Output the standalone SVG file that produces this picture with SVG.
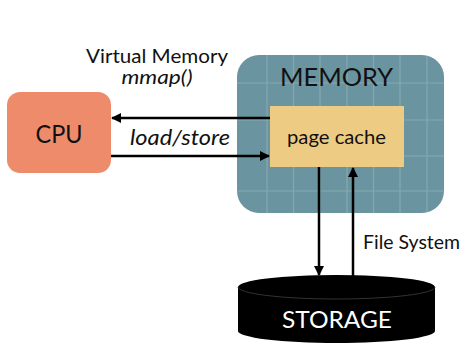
<svg xmlns="http://www.w3.org/2000/svg" width="462" height="347" viewBox="0 0 462 347">
  <style>
    text { font-family: "Lato", "Open Sans", "Liberation Sans", sans-serif; fill: #111; }
    .it { font-style: italic; }
    .wire { stroke: #000; stroke-width: 2.5; fill: none; }
    .grid { stroke: #9db8bf; stroke-width: 1.2; opacity: 0.55; }
  </style>
  <defs>
    <marker id="head" viewBox="0 0 10 10" refX="9" refY="5" markerWidth="4" markerHeight="4" orient="auto" markerUnits="strokeWidth">
      <path d="M0,0 L10,5 L0,10 z" fill="#000"/>
    </marker>
    <clipPath id="memClip">
      <rect x="237" y="55" width="207" height="158" rx="22"/>
    </clipPath>
  </defs>

  <!-- labels on the left -->
  <text x="157" y="63" font-size="18.5" text-anchor="middle" textLength="142" lengthAdjust="spacingAndGlyphs">Virtual Memory</text>
  <text x="157" y="84" font-size="18.5" class="it" text-anchor="middle" textLength="71" lengthAdjust="spacingAndGlyphs">mmap()</text>
  <text x="180" y="145" font-size="21" class="it" text-anchor="middle" textLength="100" lengthAdjust="spacingAndGlyphs">load/store</text>

  <!-- CPU -->
  <g id="cpu">
    <rect x="7" y="92" width="104" height="81" rx="13" fill="#ee8b6b"/>
    <text x="59" y="143" font-size="25" text-anchor="middle" textLength="47" lengthAdjust="spacingAndGlyphs">CPU</text>
  </g>

  <!-- main memory with faint grid -->
  <g id="memory">
    <rect x="237" y="55" width="207" height="158" rx="22" fill="#6b949f"/>
    <g clip-path="url(#memClip)" class="grid">
      <line x1="267" y1="55" x2="267" y2="213"/>
      <line x1="293.5" y1="55" x2="293.5" y2="213"/>
      <line x1="320" y1="55" x2="320" y2="213"/>
      <line x1="347" y1="55" x2="347" y2="213"/>
      <line x1="373.5" y1="55" x2="373.5" y2="213"/>
      <line x1="400" y1="55" x2="400" y2="213"/>
      <line x1="427" y1="55" x2="427" y2="213"/>
      <line x1="237" y1="83" x2="444" y2="83"/>
      <line x1="237" y1="120" x2="444" y2="120"/>
      <line x1="237" y1="156" x2="444" y2="156"/>
      <line x1="237" y1="191" x2="444" y2="191"/>
    </g>
    <text x="336.5" y="86" font-size="25" text-anchor="middle" textLength="113" lengthAdjust="spacingAndGlyphs">MEMORY</text>
  </g>

  <!-- page cache inside memory -->
  <g id="page-cache">
    <rect x="270" y="106" width="134" height="61" fill="#edcb82"/>
    <text x="336.5" y="144" font-size="19" text-anchor="middle" textLength="99" lengthAdjust="spacingAndGlyphs">page cache</text>
  </g>

  <!-- storage cylinder -->
  <g id="storage">
    <path d="M238,287 A98.5,12 0 0 1 435,287 L435,331 A98.5,12 0 0 1 238,331 Z" fill="#000"/>
    <path d="M238,287 A98.5,12 0 0 0 435,287" fill="none" stroke="#333" stroke-width="1"/>
    <text x="337" y="328" font-size="23" text-anchor="middle" textLength="110" lengthAdjust="spacingAndGlyphs" style="fill:#fff">STORAGE</text>
  </g>

  <text x="411.5" y="249" font-size="19" text-anchor="middle" textLength="97" lengthAdjust="spacingAndGlyphs">File System</text>

  <!-- connectors -->
  <g id="connectors">
    <line class="wire" x1="270" y1="118" x2="112" y2="118" marker-end="url(#head)"/>
    <line class="wire" x1="111" y1="156" x2="269" y2="156" marker-end="url(#head)"/>
    <line class="wire" x1="319" y1="167" x2="319" y2="275" marker-end="url(#head)"/>
    <line class="wire" x1="353" y1="276" x2="353" y2="168" marker-end="url(#head)"/>
  </g>
</svg>
